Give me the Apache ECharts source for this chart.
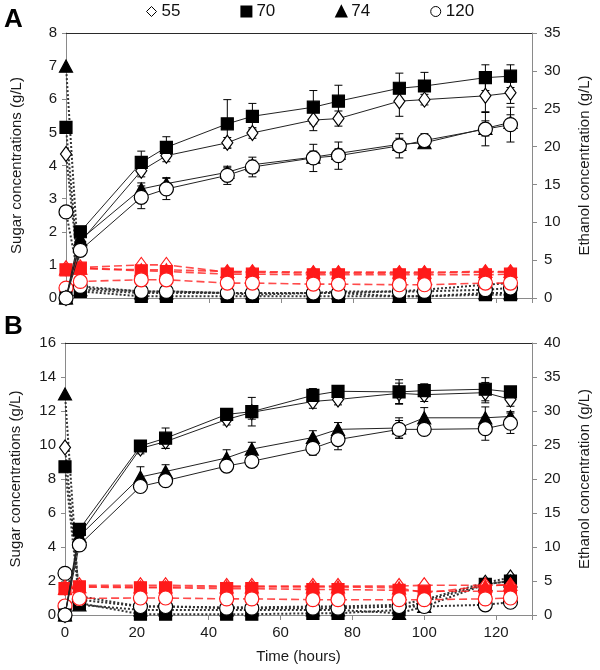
<!DOCTYPE html>
<html><head><meta charset="utf-8">
<script src="https://cdn.jsdelivr.net/npm/echarts@6/dist/echarts.min.js"></script>
<style>html,body{margin:0;padding:0;background:#fff}#c{width:600px;height:670px}</style>
</head><body><div id="c"></div>
<script>
// ---- data ----
const times = [0, 4, 21, 28, 45, 52, 69, 76, 93, 100, 117, 124];
const strains = ['55', '70', '74', '120'];
const xTicks = [0, 20, 40, 60, 80, 100, 120];

// Panel A - ethanol (g/L, right axis)
const ethA_55  = [0, 7.4, 16.8, 18.8, 20.5, 21.8, 23.5, 23.7, 26.0, 26.2, 26.7, 27.1];
const ethA_70  = [0, 8.75, 17.9, 19.9, 23.0, 24.0, 25.2, 26.0, 27.7, 28.0, 29.1, 29.3];
const ethA_74  = [0, 7.7, 14.4, 15.1, 16.6, 17.6, 18.6, 19.1, 20.3, 20.5, 22.4, 23.2];
const ethA_120 = [0, 6.3, 13.3, 14.4, 16.2, 17.3, 18.5, 18.8, 20.1, 20.8, 22.3, 22.9];
const errA_55  = [0, 0.4, 0.8, 0.8, 0.7, 0.7, 1.4, 1.0, 2.0, 0.7, 2.1, 1.4];
const errA_70  = [0, 0.5, 1.5, 1.4, 3.2, 1.7, 2.2, 2.1, 2.0, 1.8, 1.7, 1.5];
const errA_74  = [0, 0.4, 0.8, 0.8, 0.6, 0.6, 0.8, 0.6, 0.8, 0.6, 1.0, 1.0];
const errA_120 = [0, 0.4, 1.5, 1.4, 1.2, 1.3, 1.8, 1.8, 1.6, 0.9, 2.2, 2.3];
// Panel A - sugar 1 (black dotted, left axis)
const glcA_55  = [4.35, 0.3, 0.2, 0.2, 0.15, 0.1, 0.15, 0.2, 0.2, 0.25, 0.4, 0.45];
const glcA_70  = [5.15, 0.2, 0.05, 0.05, 0.05, 0.05, 0.05, 0.05, 0.05, 0.05, 0.1, 0.1];
const glcA_74  = [7.0, 0.25, 0.15, 0.15, 0.15, 0.15, 0.15, 0.15, 0.05, 0.05, 0.15, 0.15];
const glcA_120 = [2.6, 0.35, 0.2, 0.2, 0.15, 0.15, 0.15, 0.15, 0.2, 0.2, 0.25, 0.3];
// Panel A - sugar 2 (red dashed, left axis)
const xylA_55  = [0.9, 0.92, 1.0, 1.0, 0.78, 0.78, 0.75, 0.75, 0.75, 0.75, 0.78, 0.78];
const xylA_70  = [0.85, 0.9, 0.82, 0.8, 0.72, 0.72, 0.7, 0.7, 0.7, 0.7, 0.7, 0.72];
const xylA_74  = [0.88, 0.9, 0.85, 0.85, 0.8, 0.8, 0.78, 0.78, 0.78, 0.78, 0.8, 0.8];
const xylA_120 = [0.3, 0.5, 0.55, 0.55, 0.45, 0.45, 0.42, 0.42, 0.4, 0.4, 0.45, 0.45];

// Panel B - ethanol
const ethB_55  = [0, 11.8, 24.5, 25.5, 28.75, 29.8, 31.4, 31.7, 32.6, 32.4, 32.7, 31.7];
const ethB_70  = [0, 12.6, 24.85, 26.0, 29.5, 29.9, 32.3, 32.9, 32.8, 33.0, 33.2, 32.8];
const ethB_74  = [0, 11.6, 20.3, 21.1, 23.1, 24.4, 26.1, 27.3, 27.5, 29.0, 29.0, 29.2];
const ethB_120 = [0, 10.3, 18.9, 19.75, 21.9, 22.6, 24.5, 25.8, 27.3, 27.3, 27.4, 28.2];
const errB_55  = [0, 0.5, 0.8, 1.0, 0.8, 1.0, 1.0, 0.8, 1.5, 1.0, 1.5, 1.0];
const errB_70  = [0, 0.5, 0.8, 1.5, 0.8, 2.1, 1.0, 0.8, 1.8, 1.0, 1.7, 0.8];
const errB_74  = [0, 0.5, 1.5, 1.0, 1.2, 1.0, 1.0, 1.0, 1.5, 1.5, 1.6, 0.7];
const errB_120 = [0, 0.5, 0.8, 0.8, 0.8, 0.8, 1.0, 1.5, 1.3, 0.8, 1.7, 1.5];
// Panel B - sugar 1
const glcB_55  = [9.86, 1.1, 0.5, 0.5, 0.45, 0.45, 0.5, 0.5, 0.6, 0.9, 1.9, 2.2];
const glcB_70  = [8.72, 0.7, 0.05, 0.05, 0.05, 0.05, 0.1, 0.1, 0.3, 0.8, 1.8, 2.0];
const glcB_74  = [13.0, 0.6, 0.3, 0.3, 0.3, 0.3, 0.3, 0.3, 0.1, 0.5, 1.8, 2.0];
const glcB_120 = [2.45, 0.9, 0.5, 0.5, 0.4, 0.4, 0.4, 0.4, 0.5, 0.5, 0.6, 0.75];
// Panel B - sugar 2
const xylB_55  = [1.6, 1.75, 1.75, 1.75, 1.7, 1.7, 1.7, 1.7, 1.7, 1.75, 1.75, 1.75];
const xylB_70  = [1.55, 1.65, 1.6, 1.6, 1.55, 1.55, 1.5, 1.5, 1.45, 1.4, 1.4, 1.4];
const xylB_74  = [1.57, 1.67, 1.65, 1.65, 1.65, 1.65, 1.65, 1.65, 1.6, 1.3, 1.7, 1.8];
const xylB_120 = [0.53, 0.98, 1.0, 1.0, 0.95, 0.95, 0.9, 0.9, 0.9, 0.9, 0.95, 1.0];

// ---- build ----
const FONT = "'Liberation Sans', Arial, sans-serif";
const panels = [
  {eth: [ethA_55, ethA_70, ethA_74, ethA_120], err: [errA_55, errA_70, errA_74, errA_120],
   glc: [glcA_55, glcA_70, glcA_74, glcA_120], xyl: [xylA_55, xylA_70, xylA_74, xylA_120]},
  {eth: [ethB_55, ethB_70, ethB_74, ethB_120], err: [errB_55, errB_70, errB_74, errB_120],
   glc: [glcB_55, glcB_70, glcB_74, glcB_120], xyl: [xylB_55, xylB_70, xylB_74, xylB_120]}
];
const symbolOf = {'55': 'diamond', '70': 'rect', '74': 'triangle', '120': 'circle'};
const sizeOf = {'55': [11, 15], '70': 12, '74': [13, 12], '120': 14};
const filledOf = {'55': false, '70': true, '74': true, '120': false};

function lineSeries(name, vals, strain, kind, gi) {
  const col = kind === 'xyl' ? '#ff1a1a' : '#000';
  const filled = filledOf[strain];
  return {
    name: name, type: 'line', xAxisIndex: gi * 2, yAxisIndex: kind === 'eth' ? gi * 2 + 1 : gi * 2,
    data: times.map((t, i) => [t, vals[i]]),
    symbol: symbolOf[strain], symbolSize: sizeOf[strain], showSymbol: true,
    itemStyle: {color: filled ? col : '#fff', borderColor: col, borderWidth: 1.2, opacity: 1},
    lineStyle: kind === 'eth' ? {color: '#222', width: 1, type: 'solid'}
      : kind === 'glc' ? {color: '#333', width: 2, type: [2, 2]}
      : {color: 'rgba(255,30,30,0.8)', width: 1.6, type: [8, 4]},
    z: kind === 'eth' ? 5 : kind === 'xyl' ? 4 : 3,
    animation: false, emphasis: {disabled: true}, silent: true
  };
}
function errSeries(vals, errs, gi) {
  return {
    type: 'custom', xAxisIndex: gi * 2, yAxisIndex: gi * 2 + 1, z: 4.5, silent: true, animation: false,
    data: times.map((t, i) => [t, vals[i], errs[i]]).filter(d => d[2] > 0),
    encode: {x: 0, y: 1},
    renderItem: function (params, api) {
      const x = api.value(0), y = api.value(1), e = api.value(2);
      const top = api.coord([x, y + e]), bot = api.coord([x, y - e]);
      const hw = 4, st = {stroke: '#000', lineWidth: 1};
      return {type: 'group', children: [
        {type: 'line', shape: {x1: top[0], y1: top[1], x2: bot[0], y2: bot[1]}, style: st},
        {type: 'line', shape: {x1: top[0] - hw, y1: top[1], x2: top[0] + hw, y2: top[1]}, style: st},
        {type: 'line', shape: {x1: bot[0] - hw, y1: bot[1], x2: bot[0] + hw, y2: bot[1]}, style: st}
      ]};
    }
  };
}

const series = [];
panels.forEach((p, gi) => {
  strains.forEach((s, k) => series.push(lineSeries('glc ' + s, p.glc[k], s, 'glc', gi)));
  strains.forEach((s, k) => series.push(lineSeries('xyl ' + s, p.xyl[k], s, 'xyl', gi)));
  strains.forEach((s, k) => series.push(errSeries(p.eth[k], p.err[k], gi)));
  strains.forEach((s, k) => series.push(lineSeries(s, p.eth[k], s, 'eth', gi)));
});

const grids = [
  {left: 66, top: 33, width: 466, height: 265},
  {left: 63, top: 343, width: 469, height: 272}
];
const axisGray = '#8a8a8a';
const lblStyle = {fontSize: 15, color: '#1a1a1a', fontFamily: FONT};
const xAxes = [], yAxes = [];
[0, 1].forEach(gi => {
  xAxes.push({
    gridIndex: gi, type: 'value', min: 0, max: 130, interval: 20, position: 'bottom',
    axisLine: {show: true, onZero: false, lineStyle: {color: axisGray, width: 1}},
    axisTick: {show: true, inside: false, length: 5, lineStyle: {color: axisGray}},
    axisLabel: {show: gi === 1, margin: 10, ...lblStyle,
      formatter: v => xTicks.indexOf(v) >= 0 ? String(v) : ''},
    splitLine: {show: false},
    name: gi === 1 ? 'Time (hours)' : '', nameLocation: 'middle', nameGap: 34,
    nameTextStyle: {fontSize: 15, color: '#1a1a1a', fontFamily: FONT}
  });
  xAxes.push({
    gridIndex: gi, type: 'value', min: 0, max: 130, position: 'top',
    axisLine: {show: true, onZero: false, lineStyle: {color: '#2a2a2a', width: 1.2}},
    axisTick: {show: false}, axisLabel: {show: false}, splitLine: {show: false}
  });
  yAxes.push({
    gridIndex: gi, type: 'value', min: 0, max: gi === 0 ? 8 : 16, interval: gi === 0 ? 1 : 2, position: 'left',
    axisLine: {show: true, onZero: false, lineStyle: {color: axisGray, width: 1}},
    axisTick: {show: true, length: 4, lineStyle: {color: axisGray}},
    axisLabel: {margin: 9, ...lblStyle}, splitLine: {show: false},
    name: 'Sugar concentrations (g/L)', nameLocation: 'middle', nameGap: 42, nameRotate: 90,
    nameTextStyle: {fontSize: 15, color: '#1a1a1a', fontFamily: FONT}
  });
  yAxes.push({
    gridIndex: gi, type: 'value', min: 0, max: gi === 0 ? 35 : 40, interval: 5, position: 'right',
    axisLine: {show: true, onZero: false, lineStyle: {color: axisGray, width: 1}},
    axisTick: {show: true, length: 5, lineStyle: {color: axisGray}},
    axisLabel: {margin: 12, ...lblStyle}, splitLine: {show: false},
    name: 'Ethanol concentration (g/L)', nameLocation: 'middle', nameGap: 45, nameRotate: 90,
    nameTextStyle: {fontSize: 15, color: '#1a1a1a', fontFamily: FONT}
  });
});

const chart = echarts.init(document.getElementById('c'), null, {renderer: 'canvas'});
chart.setOption({
  backgroundColor: '#fff',
  animation: false,
  textStyle: {fontFamily: FONT},
  grid: grids,
  xAxis: xAxes,
  yAxis: yAxes,
  legend: {
    left: 146, top: 3, padding: 0, itemWidth: 10, itemHeight: 10, itemGap: 60, selectedMode: false,
    textStyle: {fontSize: 17, color: '#111', fontFamily: FONT},
    data: [
      {name: '55', icon: 'diamond', itemStyle: {color: '#fff', borderColor: '#000', borderWidth: 1}},
      {name: '70', icon: 'rect', itemStyle: {color: '#000', borderColor: '#000'}},
      {name: '74', icon: 'triangle', itemStyle: {color: '#000', borderColor: '#000'}},
      {name: '120', icon: 'circle', itemStyle: {color: '#fff', borderColor: '#000', borderWidth: 1}}
    ]
  },
  graphic: [
    {type: 'text', left: 4, top: 7, style: {text: 'A', font: "bold 26px 'Liberation Sans', Arial", fill: '#000'}},
    {type: 'text', left: 4, top: 314, style: {text: 'B', font: "bold 26px 'Liberation Sans', Arial", fill: '#000'}}
  ],
  series: series
});
</script></body></html>
